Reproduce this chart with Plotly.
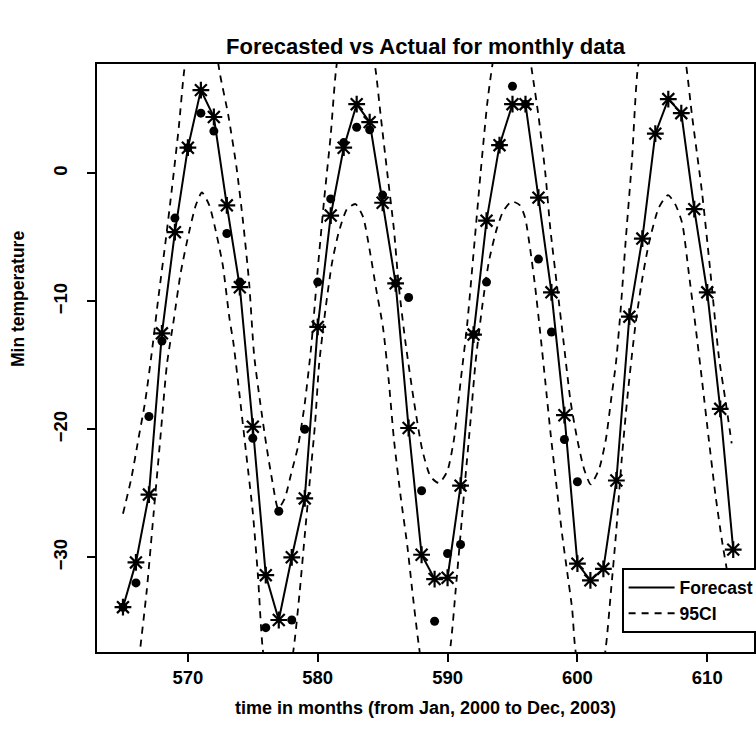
import plotly.graph_objects as go

# ---------------- data ----------------
months = list(range(565, 613))
forecast = [-33.9, -30.4, -25.1, -12.5, -4.6, 2.0, 6.5, 4.4, -2.5, -8.9,
            -19.8, -31.4, -34.9, -30.0, -25.4, -12.0, -3.3, 2.0, 5.4, 4.0,
            -2.3, -8.6, -19.9, -29.8, -31.7, -31.6, -24.4, -12.6, -3.7, 2.2,
            5.4, 5.4, -1.9, -9.3, -18.9, -30.5, -31.8, -30.9, -24.0, -11.2,
            -5.1, 3.1, 5.8, 4.7, -2.8, -9.3, -18.4, -29.4]

actual_months = list(range(565, 601))
actual = [-33.9, -32.0, -19.0, -13.1, -3.5, 2.0, 4.7, 3.3, -4.7, -8.5,
          -20.7, -35.5, -26.4, -34.9, -20.0, -8.5, -2.0, 2.4, 3.6, 3.4,
          -1.7, -8.6, -9.7, -24.8, -35.0, -29.7, -29.0, -12.6, -8.5, 2.2,
          6.8, 5.4, -6.7, -12.4, -20.8, -24.1]

ci_upper_t = [565.0, 565.65, 566.18, 566.7, 567.22, 567.74, 568.26, 568.78, 569.31, 569.69,
              570.3, 571.0, 571.8, 572.46, 573.1, 573.74, 574.26, 574.72, 575.1, 575.54,
              576.05, 576.51, 576.95, 577.46, 577.97, 578.49, 579.0, 579.5, 580.0, 580.5,
              581.0, 581.4, 582.0, 583.0, 583.8, 584.46, 584.85, 585.36, 585.87, 586.25,
              586.77, 587.41, 588.05, 588.69, 589.33, 589.97, 590.49, 591.0, 591.51, 592.03,
              592.54, 593.05, 593.44, 594.2, 595.0, 595.8, 596.49, 597.0, 597.53, 597.92,
              598.44, 598.95, 599.47, 599.99, 600.51, 601.02, 601.67, 602.19, 602.58, 602.97,
              603.35, 603.7, 604.2, 604.65, 605.5, 606.5, 607.5, 608.32, 608.84, 609.61,
              610.25, 610.89, 611.41, 611.88]
ci_upper = [-26.6, -23.8, -20.8, -17.9, -14.0, -9.6, -5.5, -1.1, 3.7, 7.8,
            12.0, 14.0, 12.0, 7.8, 4.6, 0.5, -3.9, -8.6, -14.2, -17.7,
            -21.3, -24.1, -26.2, -25.4, -23.4, -21.3, -18.0, -13.5, -7.5, -2.0,
            3.0, 8.0, 12.0, 13.5, 12.0, 8.05, 4.5, 0.0, -4.4, -8.9,
            -13.3, -17.8, -21.6, -23.7, -24.2, -23.3, -20.8, -16.3, -11.8, -5.9,
            0.0, 5.4, 8.4, 12.5, 13.5, 12.5, 8.05, 4.5, 0.0, -4.4,
            -8.9, -13.3, -17.8, -20.8, -23.1, -24.3, -23.1, -20.8, -17.8, -14.8,
            -10.4, -5.5, 1.0, 8.2, 12.5, 14.0, 12.5, 8.8, 4.4, -1.6,
            -7.8, -14.3, -17.8, -21.1]

ci_lower_t = [566.0, 566.31, 566.83, 567.35, 567.87, 568.39, 568.92, 569.44, 570.09, 570.61,
              571.08, 571.65, 572.17, 572.69, 573.21, 573.5, 574.0, 574.5, 575.0, 575.4,
              575.75, 576.5, 577.3, 578.15, 578.6, 579.0, 579.4, 579.8, 580.1, 580.6,
              581.1, 581.62, 582.25, 582.9, 583.49, 584.0, 584.51, 585.02, 585.45, 585.87,
              586.38, 586.9, 587.28, 587.79, 588.5, 589.5, 590.23, 590.62, 591.0, 591.38,
              591.77, 592.15, 592.67, 593.18, 593.77, 594.29, 594.94, 595.58, 595.98, 596.36,
              596.75, 597.14, 597.53, 597.92, 598.31, 598.82, 599.22, 599.6, 599.81, 600.5,
              601.5, 602.19, 602.58, 602.97, 603.4, 603.9, 604.45, 604.95, 605.5, 606.26,
              606.98, 607.55, 608.07, 608.58, 609.09, 609.61, 610.12, 610.64, 611.15, 611.6]
ci_lower = [-40.0, -37.3, -32.6, -26.7, -20.8, -14.9, -11.4, -7.8, -4.6, -2.5,
            -1.5, -2.5, -4.6, -7.2, -11.4, -13.2, -17.5, -22.0, -26.5, -31.5,
            -37.0, -42.0, -42.0, -37.1, -32.8, -28.3, -23.9, -19.5, -15.0, -10.6,
            -7.0, -4.6, -2.8, -2.4, -3.4, -6.0, -9.1, -12.0, -16.0, -20.8,
            -25.2, -29.1, -32.6, -36.9, -41.0, -41.0, -36.9, -32.6, -28.2, -23.7,
            -19.3, -14.8, -10.4, -6.9, -4.4, -2.95, -2.2, -2.5, -3.5, -5.9,
            -8.9, -12.5, -16.3, -20.2, -23.7, -28.2, -31.2, -34.1, -36.9, -41.0,
            -41.0, -37.0, -32.7, -28.2, -22.5, -17.0, -12.0, -8.5, -5.5, -2.7,
            -1.7, -2.45, -3.9, -7.8, -11.9, -16.3, -20.8, -25.2, -28.8, -31.5]

x_ticks = [570, 580, 590, 600, 610]
y_ticks = [-30, -20, -10, 0]

title_text = "Forecasted vs Actual for monthly data"
x_title = "time in months (from Jan, 2000 to Dec, 2003)"
y_title = "Min temperature"

# ---------------- figure ----------------
FONT = "Liberation Sans, Arial, Helvetica, sans-serif"
dash = "7px,6px"

fig = go.Figure()
fig.add_trace(go.Scatter(x=months, y=forecast, mode="lines", name="Forecast",
                         line=dict(color="black", width=2)))
fig.add_trace(go.Scatter(x=ci_upper_t, y=ci_upper, mode="lines", name="95CI",
                         legendgroup="ci",
                         line=dict(color="black", width=1.8, dash=dash,
                                   shape="spline", smoothing=0.6)))
fig.add_trace(go.Scatter(x=ci_lower_t, y=ci_lower, mode="lines", name="95CI",
                         legendgroup="ci", showlegend=False,
                         line=dict(color="black", width=1.8, dash=dash,
                                   shape="spline", smoothing=0.6)))
fig.add_trace(go.Scatter(x=months, y=forecast, mode="markers", name="Forecast points",
                         showlegend=False,
                         marker=dict(symbol="asterisk-open", size=14, color="black",
                                     line=dict(color="black", width=2.2))))
fig.add_trace(go.Scatter(x=actual_months, y=actual, mode="markers", name="Actual",
                         showlegend=False,
                         marker=dict(symbol="circle", size=9, color="black")))

L, R, T, B = 97, 2, 64, 90
W, H = 756, 742
PW, PH = W - L - R, H - T - B

fig.update_layout(
    width=W, height=H,
    margin=dict(l=L, r=R, t=T, b=B, pad=0, autoexpand=False),
    paper_bgcolor="white", plot_bgcolor="white",
    font=dict(family=FONT, color="black", size=17),
    title=dict(text=title_text, x=0.5, xref="paper", xanchor="center",
               y=1 - 46 / H, yref="container", yanchor="middle",
               font=dict(size=22, weight="bold", family=FONT)),
    xaxis=dict(range=[563.0, 613.6], tickvals=x_ticks, showgrid=False, zeroline=False,
               showline=True, mirror=True, linecolor="black", linewidth=1.6,
               ticks="outside", ticklen=8, tickwidth=1.5, tickcolor="black",
               tickfont=dict(size=18.5, weight="bold"),
               title=dict(text=x_title, standoff=14, font=dict(size=18, weight="bold"))),
    yaxis=dict(range=[-37.4, 8.54], tickvals=y_ticks, showgrid=False, zeroline=False,
               showline=True, mirror=True, linecolor="black", linewidth=1.6,
               ticks="outside", ticklen=8, tickwidth=1.5, tickcolor="black",
               tickangle=-90, ticklabelstandoff=13,
               tickfont=dict(size=18.5, weight="bold")),
    annotations=[dict(text=y_title, textangle=-90, xref="paper", yref="paper",
                      x=(18 - L) / PW, y=(H - B - 299) / PH,
                      xanchor="center", yanchor="middle", showarrow=False,
                      font=dict(size=17.5, weight="bold", family=FONT))],
    legend=dict(x=(622 - L) / PW, y=(H - B - 568) / PH,
                xanchor="left", yanchor="top", bgcolor="white",
                bordercolor="black", borderwidth=1.6, itemwidth=46,
                font=dict(size=17.5, weight="bold"), tracegroupgap=0),
    showlegend=True,
)

fig.write_html("out.html")
